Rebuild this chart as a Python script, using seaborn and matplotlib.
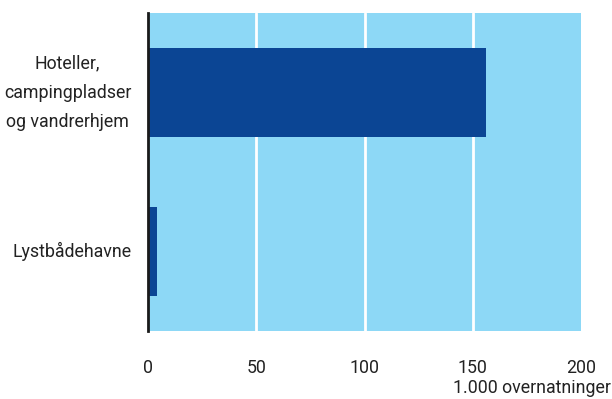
import matplotlib
matplotlib.use("Agg")
import matplotlib.pyplot as plt
import seaborn as sns
import pandas as pd

categories = ["Hoteller,\ncampingpladser\nog vandrerhjem", "Lystbådehavne"]
values = [156, 4.3]
xticks = [0, 50, 100, 150, 200]
xtick_labels = ["0", "50", "100", "150", "200"]
unit_label = "1.000 overnatninger"

sns.set_theme(style="white")
plt.rcParams['font.family'] = ['Roboto', 'DejaVu Sans']

df = pd.DataFrame({"cat": categories, "val": values})

fig = plt.figure(figsize=(6.12, 3.99), dpi=100)
ax = fig.add_axes([148/612, 1-331/399, 433/612, 318/399])
ax.set_facecolor("#8dd8f6")
sns.barplot(data=df, y="cat", x="val", color="#0b4594", saturation=1,
            width=0.56, ax=ax, orient="h", zorder=3, linewidth=0)
ax.set_xlim(0, 200)
ax.set_ylim(1.5, -0.5)
ax.set_xticks(xticks)
ax.set_xticklabels(xtick_labels)
for x in xticks[1:-1]:
    ax.axvline(x, color="white", lw=2, zorder=2)
for s in ["top", "right", "bottom"]:
    ax.spines[s].set_visible(False)
ax.spines["left"].set_color("#1a1a1a")
ax.spines["left"].set_linewidth(2)
ax.spines["left"].set_zorder(5)
ax.tick_params(axis="both", length=0, labelsize=12.8, colors="#222222")
ax.tick_params(axis="x", pad=20)
ax.tick_params(axis="y", pad=12)
for lab in ax.get_yticklabels():
    lab.set_multialignment("center")
    lab.set_linespacing(1.82)
    lab.set_verticalalignment("center")
ax.set_xlabel("")
ax.set_ylabel("")
fig.text(611/612, 1-388/399, unit_label, ha="right", va="center",
         fontsize=12.8, color="#222222")
fig.savefig("out.png", dpi=100)
